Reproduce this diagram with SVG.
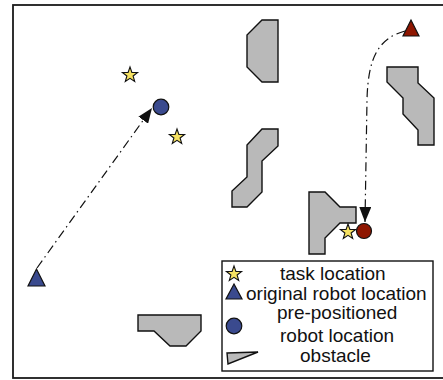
<svg xmlns="http://www.w3.org/2000/svg" width="443" height="380" viewBox="0 0 443 380">
  <style>
    .frame { fill: #ffffff; stroke: #1a1a1a; stroke-width: 1.8; }
    .obstacle { fill: #b9b9b9; stroke: #111111; stroke-width: 1.4; stroke-linejoin: miter; }
    .task { fill: #f6e262; stroke: #111111; stroke-width: 1.1; stroke-linejoin: miter; }
    .blue { fill: #3a4a8e; stroke: #111111; stroke-width: 1.2; }
    .red { fill: #8e1600; stroke: #111111; stroke-width: 1.2; }
    .path { fill: none; stroke: #111111; stroke-width: 1.2; stroke-dasharray: 9 4 1.5 4; }
    .legend-box { fill: #ffffff; stroke: #111111; stroke-width: 1.4; }
    .label { font-family: "Liberation Sans", Arial, Helvetica, sans-serif; font-size: 19px; fill: #111111; }
  </style>
  <defs>
    <marker id="arrow" viewBox="0 0 15 12" refX="15" refY="6" markerWidth="15" markerHeight="12" markerUnits="userSpaceOnUse" orient="auto">
      <path d="M0,0 L15,6 L0,12 z" fill="#111111"/>
    </marker>
    <polygon id="star" points="0,-8 1.9,-2.6 7.6,-2.5 3.1,1 4.7,6.5 0,3.3 -4.7,6.5 -3.1,1 -7.6,-2.5 -1.9,-2.6"/>
  </defs>

  <!-- workspace boundary -->
  <rect class="frame" x="13" y="5" width="440" height="373"/>

  <!-- obstacles -->
  <g id="obstacle-1"><polygon class="obstacle" points="262,20 278,20 278,82 262,82 247,67 247,35"/></g>
  <g id="obstacle-2"><polygon class="obstacle" points="262,129 278,129 278,146 262,161 262,192 247,207 232,207 232,191 247,177 247,145"/></g>
  <g id="obstacle-3"><polygon class="obstacle" points="387,67 418,67 418,83 434,98 434,145 418,145 418,130 403,114 403,98 387,82"/></g>
  <g id="obstacle-4"><polygon class="obstacle" points="309,192 325,192 340,207 356,207 356,223 340,223 325,238 325,254 309,254"/></g>
  <g id="obstacle-5"><polygon class="obstacle" points="138,315 201,315 201,331 186,346 170,346 154,331 138,331"/></g>

  <!-- robot trajectories -->
  <g id="connectors">
    <path class="path" d="M37,268 L152,108" marker-end="url(#arrow)"/>
    <path class="path" d="M405,31 C380,38 368,55 367,100 L365,222" marker-end="url(#arrow)"/>
  </g>

  <!-- task locations -->
  <g id="task-1"><use href="#star" class="task" x="130" y="75"/></g>
  <g id="task-2"><use href="#star" class="task" x="177" y="137"/></g>
  <g id="task-3"><use href="#star" class="task" x="348" y="232"/></g>

  <!-- robots -->
  <g id="robot-blue-start"><polygon class="blue" points="36.5,269 28,286 45,286"/></g>
  <g id="robot-blue-end"><circle class="blue" cx="161" cy="107" r="7.8"/></g>
  <g id="robot-red-start"><polygon class="red" points="411,20 403,36 419,36"/></g>
  <g id="robot-red-end"><circle class="red" cx="364" cy="231" r="7.5"/></g>

  <!-- legend -->
  <g id="legend">
    <rect class="legend-box" x="222" y="261" width="211" height="110"/>
    <use href="#star" class="task" x="234" y="274"/>
    <text class="label" x="280" y="280">task location</text>
    <polygon class="blue" points="234,284 226,299 242,299"/>
    <text class="label" x="246" y="300">original robot location</text>
    <circle class="blue" cx="234" cy="326" r="7.8"/>
    <text class="label" x="277" y="319">pre-positioned</text>
    <text class="label" x="280" y="342">robot location</text>
    <polygon class="obstacle" points="227,353 258,352 228,364"/>
    <text class="label" x="300" y="362">obstacle</text>
  </g>
</svg>
